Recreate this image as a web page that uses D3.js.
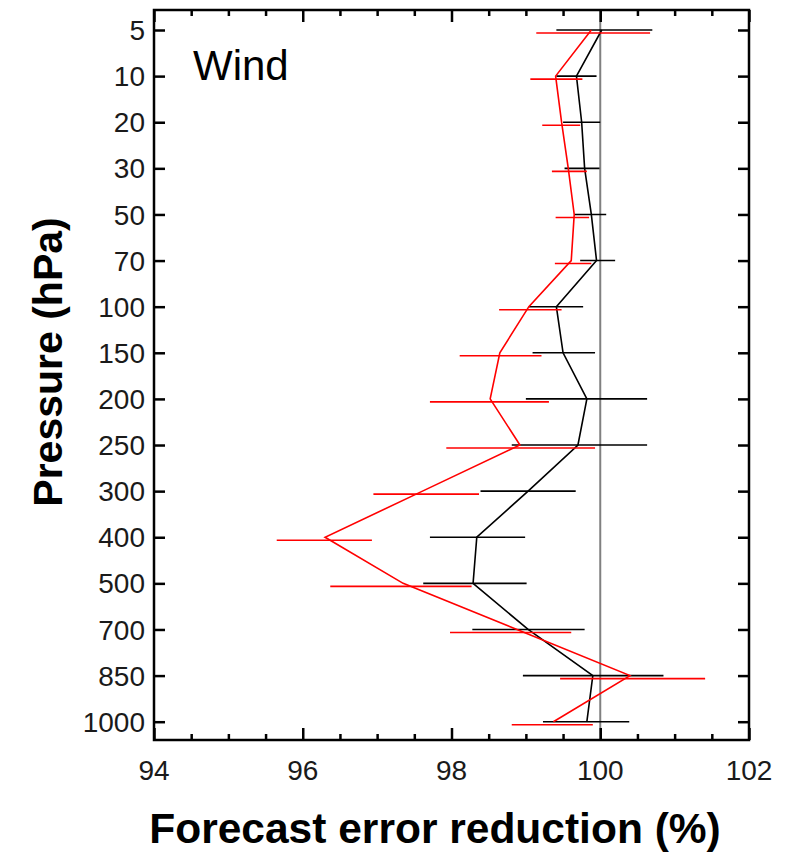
<!DOCTYPE html>
<html>
<head>
<meta charset="utf-8">
<script src="https://cdn.jsdelivr.net/npm/d3@7"></script>
<style>
  body { margin: 0; background: #fff; }
  svg { display: block; font-family: "Liberation Sans", Helvetica, Arial, sans-serif; }
</style>
</head>
<body>
<svg id="chart" width="795" height="858"></svg>
<script>
// pressure levels (hPa), top of the plot first
const levels = [5, 10, 20, 30, 50, 70, 100, 150, 200, 250, 300, 400, 500, 700, 850, 1000];
const xTicks = [94, 96, 98, 100, 102];

// black experiment
const blackMean = [100.02, 99.68, 99.75, 99.79, 99.88, 99.95, 99.41, 99.50, 99.82, 99.70, 99.03, 98.34, 98.29, 99.03, 99.90, 99.82];
const blackLo   = [99.41, 99.41, 99.50, 99.52, 99.66, 99.73, 99.04, 99.09, 99.00, 98.81, 98.39, 97.71, 97.62, 98.28, 98.96, 99.23];
const blackHi   = [100.70, 99.95, 100.00, 99.99, 100.08, 100.20, 99.77, 99.93, 100.63, 100.63, 99.67, 98.99, 99.01, 99.79, 100.85, 100.39];

// red experiment
const redMean = [99.88, 99.40, 99.48, 99.57, 99.65, 99.61, 99.04, 98.65, 98.52, 98.92, 97.61, 96.30, 97.35, 98.88, 100.40, 99.37];
const redLo   = [99.14, 99.06, 99.22, 99.35, 99.40, 99.39, 98.64, 98.11, 97.71, 97.93, 96.95, 95.65, 96.37, 97.98, 99.46, 98.81];
const redHi   = [100.67, 99.76, 99.73, 99.82, 99.85, 99.88, 99.48, 99.21, 99.31, 99.93, 98.37, 96.93, 98.27, 99.61, 101.41, 99.90];

const svg = d3.select("#chart");
const plotL = 154, plotR = 749, plotT = 10, plotB = 740;

const x = d3.scaleLinear().domain([94, 102]).range([plotL, plotR]);
const y = d3.scalePoint().domain(levels).range([30, 721.7]);

const minor = d3.range(94, 102.01, 0.5).filter(v => v % 2 !== 0);

// reference line at 100 %
svg.append("line")
  .attr("x1", x(100)).attr("x2", x(100))
  .attr("y1", plotT).attr("y2", plotB)
  .attr("stroke", "#808080").attr("stroke-width", 2);

function series(mean, lo, hi, color, dy) {
  const rows = levels.map((p, i) => ({ p, m: mean[i], lo: lo[i], hi: hi[i] }));
  svg.append("g").selectAll("line")
    .data(rows).enter().append("line")
    .attr("x1", d => x(d.lo)).attr("x2", d => x(d.hi))
    .attr("y1", d => y(d.p) + dy).attr("y2", d => y(d.p) + dy)
    .attr("stroke", color).attr("stroke-width", 1.6);
  svg.append("path")
    .datum(rows)
    .attr("fill", "none")
    .attr("stroke", color).attr("stroke-width", 1.6)
    .attr("d", d3.line().x(d => x(d.m)).y(d => y(d.p)));
}

series(blackMean, blackLo, blackHi, "#000", 0);
series(redMean, redLo, redHi, "#ff0000", 3);

// axes: ticks point inward on all four sides
svg.append("g").attr("transform", `translate(0,${plotB})`)
  .call(d3.axisTop(x).tickValues(xTicks).tickSize(12).tickFormat(""));
svg.append("g").attr("transform", `translate(0,${plotB})`)
  .call(d3.axisTop(x).tickValues(minor).tickSize(6).tickFormat(""));
svg.append("g").attr("transform", `translate(0,${plotT})`)
  .call(d3.axisBottom(x).tickValues(xTicks).tickSize(12).tickFormat(""));
svg.append("g").attr("transform", `translate(0,${plotT})`)
  .call(d3.axisBottom(x).tickValues(minor).tickSize(6).tickFormat(""));
svg.append("g").attr("transform", `translate(${plotL},0)`)
  .call(d3.axisRight(y).tickSize(11).tickFormat(""));
svg.append("g").attr("transform", `translate(${plotR},0)`)
  .call(d3.axisLeft(y).tickSize(11).tickFormat(""));

svg.selectAll(".domain").remove();
svg.selectAll(".tick line").attr("stroke", "#000").attr("stroke-width", 2.5);

// tick labels
svg.append("g").selectAll("text")
  .data(xTicks).enter().append("text")
  .attr("x", d => x(d)).attr("y", 780)
  .attr("text-anchor", "middle")
  .attr("font-size", 28).attr("fill", "#1a1a1a")
  .text(d => d);
svg.append("g").selectAll("text")
  .data(levels).enter().append("text")
  .attr("x", 145).attr("y", d => y(d))
  .attr("dy", "0.36em")
  .attr("text-anchor", "end")
  .attr("font-size", 28).attr("fill", "#1a1a1a")
  .text(d => d);

// frame
svg.append("rect")
  .attr("x", plotL).attr("y", plotT)
  .attr("width", plotR - plotL).attr("height", plotB - plotT)
  .attr("fill", "none").attr("stroke", "#000").attr("stroke-width", 2.5);

svg.append("text")
  .attr("x", 193).attr("y", 80)
  .attr("font-size", 42)
  .text("Wind");

svg.append("text")
  .attr("x", 435).attr("y", 843)
  .attr("text-anchor", "middle")
  .attr("font-size", 42.5).attr("font-weight", "bold")
  .text("Forecast error reduction (%)");

svg.append("text")
  .attr("transform", "translate(62,362) rotate(-90)")
  .attr("text-anchor", "middle")
  .attr("font-size", 41).attr("font-weight", "bold")
  .text("Pressure (hPa)");
</script>
</body>
</html>
